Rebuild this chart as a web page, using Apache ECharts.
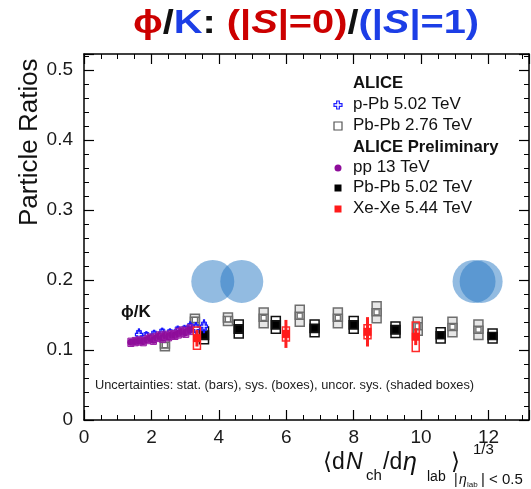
<!DOCTYPE html>
<html>
<head>
<meta charset="utf-8">
<script src="https://cdn.jsdelivr.net/npm/echarts@6/dist/echarts.min.js"></script>
<style>
  html, body { margin: 0; padding: 0; background: #fff; }
  #chart { width: 531px; height: 489px; }
</style>
</head>
<body>
<div id="chart"></div>
<script>
// ---- axis settings ----
const xTickStep = 2;
const yTickStep = 0.1;

// ---- pp 13 TeV (ALICE Preliminary) ----
const pp13X    = [1.39, 1.52, 1.64, 1.76, 1.87, 1.97, 2.06, 2.15, 2.24, 2.33, 2.42, 2.51, 2.60, 2.70, 2.80, 2.91, 3.02, 3.14];
const pp13Y    = [0.111, 0.112, 0.113, 0.112, 0.115, 0.117, 0.114, 0.118, 0.120, 0.117, 0.121, 0.119, 0.122, 0.121, 0.124, 0.126, 0.125, 0.129];
const pp13Stat = [0.004, 0.004, 0.004, 0.004, 0.004, 0.004, 0.004, 0.004, 0.004, 0.004, 0.004, 0.004, 0.004, 0.004, 0.004, 0.005, 0.005, 0.005];
const pp13Sys  = [0.006, 0.006, 0.006, 0.006, 0.006, 0.006, 0.006, 0.006, 0.006, 0.006, 0.006, 0.006, 0.006, 0.006, 0.007, 0.007, 0.007, 0.007];

// ---- p-Pb 5.02 TeV (ALICE) ----
const pPbX    = [1.63, 1.85, 2.08, 2.32, 2.55, 2.78, 2.98, 3.15, 3.32, 3.56];
const pPbY    = [0.122, 0.119, 0.121, 0.124, 0.123, 0.127, 0.128, 0.132, 0.131, 0.134];
const pPbStat = [0.009, 0.008, 0.008, 0.008, 0.008, 0.008, 0.008, 0.009, 0.009, 0.010];
const pPbSys  = [0.006, 0.006, 0.006, 0.006, 0.006, 0.006, 0.006, 0.006, 0.006, 0.006];

// ---- Pb-Pb 2.76 TeV (ALICE) ----
const pbpb276X     = [2.40, 3.29, 4.27, 5.33, 6.40, 7.53, 8.68, 9.90, 10.93, 11.70];
const pbpb276Y     = [0.107, 0.143, 0.144, 0.146, 0.149, 0.146, 0.154, 0.134, 0.133, 0.129];
const pbpb276Stat  = [0.002, 0.002, 0.002, 0.002, 0.002, 0.002, 0.002, 0.002, 0.002, 0.002];
const pbpb276Sys   = [0.008, 0.008, 0.009, 0.014, 0.015, 0.014, 0.015, 0.013, 0.014, 0.014];
const pbpb276Uncor = [0.004, 0.004, 0.004, 0.005, 0.005, 0.005, 0.005, 0.005, 0.005, 0.005];

// ---- Pb-Pb 5.02 TeV (ALICE Preliminary) ----
const pbpb502X     = [3.56, 4.59, 5.69, 6.84, 8.00, 9.24, 10.58, 12.12];
const pbpb502Y     = [0.121, 0.130, 0.136, 0.131, 0.136, 0.129, 0.121, 0.120];
const pbpb502Stat  = [0.002, 0.002, 0.002, 0.002, 0.002, 0.002, 0.002, 0.002];
const pbpb502Sys   = [0.012, 0.013, 0.012, 0.012, 0.012, 0.011, 0.011, 0.010];
const pbpb502Uncor = [0.006, 0.006, 0.006, 0.006, 0.006, 0.006, 0.005, 0.005];

// ---- Xe-Xe 5.44 TeV (ALICE Preliminary) ----
const xexeX     = [3.35, 5.99, 8.41, 9.84];
const xexeY     = [0.117, 0.123, 0.126, 0.119];
const xexeStat  = [0.012, 0.020, 0.021, 0.012];
const xexeSys   = [0.016, 0.010, 0.010, 0.021];
const xexeUncor = [0.000, 0.000, 0.000, 0.000];

// ---- overlapping-circle glyphs ----
const glyphX = [3.82, 4.68, 11.57, 11.78];
const glyphY = [0.198, 0.198, 0.198, 0.198];

const FONT = '"Liberation Sans", Arial, Helvetica, sans-serif';

function rows(xs, ys, stat, sys, unc) {
  return xs.map((x, i) => [x, ys[i], stat[i], sys[i], unc ? unc[i] : 0]);
}

function markerShape(kind, cx, cy, s, color) {
  const h = s / 2;
  if (kind === 'circle') {
    return { type: 'circle', shape: { cx, cy, r: h }, style: { fill: color } };
  }
  if (kind === 'square') {
    return { type: 'rect', shape: { x: cx - h, y: cy - h, width: s, height: s }, style: { fill: color } };
  }
  if (kind === 'openSquare') {
    return { type: 'rect', shape: { x: cx - h, y: cy - h, width: s, height: s }, style: { fill: '#fff', stroke: color, lineWidth: 1.2 } };
  }
  // open cross
  const a = s / 6;
  const pts = [
    [cx - a, cy - h], [cx + a, cy - h], [cx + a, cy - a], [cx + h, cy - a], [cx + h, cy + a],
    [cx + a, cy + a], [cx + a, cy + h], [cx - a, cy + h], [cx - a, cy + a], [cx - h, cy + a],
    [cx - h, cy - a], [cx - a, cy - a]
  ];
  return { type: 'polygon', shape: { points: pts }, style: { fill: '#fff', stroke: color, lineWidth: 1.2 } };
}

// Draws a point with stat. bar, sys. box, optional shaded uncorrelated box and marker
function pointRenderer(st) {
  return function (params, api) {
    const x = api.value(0), y = api.value(1);
    const stat = api.value(2), sys = api.value(3), unc = api.value(4);
    const c = api.coord([x, y]);
    const py = v => api.coord([x, v])[1];
    const kids = [];
    if (sys > 0) {
      const t = py(y + sys), b = py(y - sys);
      kids.push({ type: 'rect', shape: { x: c[0] - st.boxW / 2, y: t, width: st.boxW, height: b - t },
        style: { fill: st.boxFill, stroke: st.boxStroke, lineWidth: st.boxLine } });
    }
    if (unc > 0) {
      const t = py(y + unc), b = py(y - unc);
      kids.push({ type: 'rect', shape: { x: c[0] - st.boxW / 2, y: t, width: st.boxW, height: b - t },
        style: { fill: st.uncFill, stroke: st.boxStroke, lineWidth: st.boxLine } });
    }
    if (stat > 0) {
      kids.push({ type: 'line', shape: { x1: c[0], y1: py(y + stat), x2: c[0], y2: py(y - stat) },
        style: { stroke: st.barColor, lineWidth: st.barW } });
    }
    kids.push(markerShape(st.marker, c[0], c[1], st.size, st.markColor));
    return { type: 'group', children: kids };
  };
}

function seriesOf(name, data, st, z) {
  return {
    name, type: 'custom', data, z: z,
    renderItem: pointRenderer(st),
    encode: { x: 0, y: 1 },
    silent: true
  };
}

const chart = echarts.init(document.getElementById('chart'), null, { renderer: 'canvas' });

const axisCommon = {
  axisLine: { show: true, onZero: false, lineStyle: { color: '#000', width: 1.5 } },
  axisTick: { show: true, inside: true, length: 10, lineStyle: { color: '#000', width: 1.2 } },
  minorTick: { show: true, length: 5, lineStyle: { color: '#000', width: 1 } },
  splitLine: { show: false }
};

const option = {
  backgroundColor: '#fff',
  animation: false,
  grid: { left: 84, right: 2, top: 54, bottom: 69, containLabel: false },
  xAxis: [
    Object.assign({}, axisCommon, {
      type: 'value', min: 0, max: 13.2, interval: xTickStep, position: 'bottom',
      minorTick: Object.assign({}, axisCommon.minorTick, { splitNumber: 4 }),
      axisLabel: { show: true, showMaxLabel: false, margin: 8, color: '#1a1a1a', fontSize: 19, fontFamily: FONT }
    }),
    Object.assign({}, axisCommon, {
      type: 'value', min: 0, max: 13.2, interval: xTickStep, position: 'top',
      minorTick: Object.assign({}, axisCommon.minorTick, { splitNumber: 4 }),
      axisLabel: { show: false }
    })
  ],
  yAxis: [
    Object.assign({}, axisCommon, {
      type: 'value', min: 0, max: 0.523, interval: yTickStep, position: 'left',
      minorTick: Object.assign({}, axisCommon.minorTick, { splitNumber: 5 }),
      axisLabel: { show: true, showMaxLabel: false, margin: 11, color: '#1a1a1a', fontSize: 19, fontFamily: FONT,
        formatter: v => (v === 0 ? '0' : v.toFixed(1)) }
    }),
    Object.assign({}, axisCommon, {
      type: 'value', min: 0, max: 0.523, interval: yTickStep, position: 'right',
      minorTick: Object.assign({}, axisCommon.minorTick, { splitNumber: 5 }),
      axisLabel: { show: false }
    })
  ],
  series: [
    {
      name: 'glyphs', type: 'scatter', silent: true, z: 1,
      data: glyphX.map((x, i) => [x, glyphY[i]]),
      symbol: 'circle', symbolSize: 43,
      itemStyle: { color: 'rgba(34,118,194,0.62)' }
    },
    seriesOf('Pb-Pb 2.76 TeV', rows(pbpb276X, pbpb276Y, pbpb276Stat, pbpb276Sys, pbpb276Uncor),
      { boxW: 9, boxFill: 'rgba(215,215,215,0.6)', boxStroke: '#6e6e6e', boxLine: 1.5, uncFill: '#bdbdbd',
        barColor: '#6e6e6e', barW: 1.5, marker: 'openSquare', size: 5, markColor: '#6e6e6e' }, 3),
    seriesOf('Pb-Pb 5.02 TeV', rows(pbpb502X, pbpb502Y, pbpb502Stat, pbpb502Sys, pbpb502Uncor),
      { boxW: 9, boxFill: '#fff', boxStroke: '#111', boxLine: 1.5, uncFill: '#111',
        barColor: '#111', barW: 1.5, marker: 'square', size: 6, markColor: '#000' }, 4),
    seriesOf('p-Pb 5.02 TeV', rows(pPbX, pPbY, pPbStat, pPbSys),
      { boxW: 5, boxFill: 'rgba(60,60,255,0.35)', boxStroke: '#2a2aff', boxLine: 1, uncFill: 'none',
        barColor: '#1515ff', barW: 2.2, marker: 'cross', size: 7, markColor: '#1515ff' }, 5),
    seriesOf('pp 13 TeV', rows(pp13X, pp13Y, pp13Stat, pp13Sys),
      { boxW: 6, boxFill: 'rgba(150,20,160,0.55)', boxStroke: '#981aa3', boxLine: 1, uncFill: 'none',
        barColor: '#981aa3', barW: 2, marker: 'circle', size: 7, markColor: '#8e0d9a' }, 6),
    seriesOf('Xe-Xe 5.44 TeV', rows(xexeX, xexeY, xexeStat, xexeSys, xexeUncor),
      { boxW: 7, boxFill: 'rgba(255,255,255,0)', boxStroke: '#ff2a2a', boxLine: 1.5, uncFill: 'none',
        barColor: '#ff2020', barW: 3, marker: 'square', size: 8, markColor: '#ff1a1a' }, 7)
  ],
  graphic: [
    // Title
    {
      type: 'text', x: 306, y: 24, scaleX: 1.17, z: 20,
      style: {
        text: '{r|ϕ}{k|/}{b|K}{k|: }{r|(|}{ri|S}{r||=0)}{k|/}{b|(|}{bi|S}{b||=1)}',
        font: 'bold 34px ' + FONT, textAlign: 'center', textVerticalAlign: 'middle',
        rich: {
          r:  { fill: '#cc0000', font: 'bold 34px ' + FONT },
          ri: { fill: '#cc0000', font: 'italic bold 34px ' + FONT },
          b:  { fill: '#1c3ee6', font: 'bold 34px ' + FONT },
          bi: { fill: '#1c3ee6', font: 'italic bold 34px ' + FONT },
          k:  { fill: '#111', font: 'bold 34px ' + FONT }
        }
      }
    },
    // Y axis title
    {
      type: 'text', x: 30, y: 226, rotation: Math.PI / 2, z: 20,
      style: { text: 'Particle Ratios', font: '26px ' + FONT, fill: '#111', textAlign: 'left', textVerticalAlign: 'middle' }
    },
    // X axis title pieces
    { type: 'text', x: 323, y: 463, z: 20, style: { text: '⟨d', font: '23px ' + FONT, fill: '#111', textVerticalAlign: 'middle' } },
    { type: 'text', x: 346, y: 463, z: 20, style: { text: 'N', font: 'italic 23px ' + FONT, fill: '#111', textVerticalAlign: 'middle' } },
    { type: 'text', x: 366, y: 476, z: 20, style: { text: 'ch', font: '15px ' + FONT, fill: '#111', textVerticalAlign: 'middle' } },
    { type: 'text', x: 383, y: 463, z: 20, style: { text: '/d', font: '23px ' + FONT, fill: '#111', textVerticalAlign: 'middle' } },
    { type: 'text', x: 403, y: 463, z: 20, style: { text: 'η', font: 'italic 25px ' + FONT, fill: '#111', textVerticalAlign: 'middle' } },
    { type: 'text', x: 427, y: 477, z: 20, style: { text: 'lab', font: '14px ' + FONT, fill: '#111', textVerticalAlign: 'middle' } },
    { type: 'text', x: 451, y: 463, z: 20, style: { text: '⟩', font: '23px ' + FONT, fill: '#111', textVerticalAlign: 'middle' } },
    { type: 'text', x: 473, y: 450, z: 20, style: { text: '1/3', font: '15px ' + FONT, fill: '#111', textVerticalAlign: 'middle' } },
    { type: 'text', x: 454, y: 480, z: 20, style: { text: '|', font: '14px ' + FONT, fill: '#111', textVerticalAlign: 'middle' } },
    { type: 'text', x: 459, y: 480, z: 20, style: { text: 'η', font: 'italic 14px ' + FONT, fill: '#111', textVerticalAlign: 'middle' } },
    { type: 'text', x: 467, y: 485, z: 20, style: { text: 'lab', font: '8px ' + FONT, fill: '#111', textVerticalAlign: 'middle' } },
    { type: 'text', x: 481, y: 480, z: 20, style: { text: '| < 0.5', font: '15px ' + FONT, fill: '#111', textVerticalAlign: 'middle' } },
    // Panel label
    { type: 'text', x: 121, y: 312, z: 20, style: { text: 'ϕ/K', font: 'bold 17px ' + FONT, fill: '#111', textVerticalAlign: 'middle' } },
    // Uncertainty note
    { type: 'text', x: 95, y: 385, z: 20, style: { text: 'Uncertainties: stat. (bars), sys. (boxes), uncor. sys. (shaded boxes)', font: '12.8px ' + FONT, fill: '#222', textVerticalAlign: 'middle' } },
    // Legend
    { type: 'text', x: 353, y: 83, z: 20, style: { text: 'ALICE', font: 'bold 16.7px ' + FONT, fill: '#111', textVerticalAlign: 'middle' } },
    { type: 'text', x: 353, y: 104, z: 20, style: { text: 'p-Pb 5.02 TeV', font: '17px ' + FONT, fill: '#111', textVerticalAlign: 'middle' } },
    { type: 'text', x: 353, y: 125, z: 20, style: { text: 'Pb-Pb 2.76 TeV', font: '17px ' + FONT, fill: '#111', textVerticalAlign: 'middle' } },
    { type: 'text', x: 353, y: 147, z: 20, style: { text: 'ALICE Preliminary', font: 'bold 16.7px ' + FONT, fill: '#111', textVerticalAlign: 'middle' } },
    { type: 'text', x: 353, y: 167, z: 20, style: { text: 'pp 13 TeV', font: '17px ' + FONT, fill: '#111', textVerticalAlign: 'middle' } },
    { type: 'text', x: 353, y: 187, z: 20, style: { text: 'Pb-Pb 5.02 TeV', font: '17px ' + FONT, fill: '#111', textVerticalAlign: 'middle' } },
    { type: 'text', x: 353, y: 208, z: 20, style: { text: 'Xe-Xe 5.44 TeV', font: '17px ' + FONT, fill: '#111', textVerticalAlign: 'middle' } },
    Object.assign(markerShape('cross', 338, 105, 8, '#2020ff'), { z: 20 }),
    Object.assign(markerShape('openSquare', 338, 126, 8, '#555'), { z: 20 }),
    Object.assign(markerShape('circle', 338, 168, 7, '#8e0d9a'), { z: 20 }),
    Object.assign(markerShape('square', 338, 188, 7, '#000'), { z: 20 }),
    Object.assign(markerShape('square', 338, 209, 7, '#ff1a1a'), { z: 20 })
  ]
};

chart.setOption(option);
</script>
</body>
</html>
